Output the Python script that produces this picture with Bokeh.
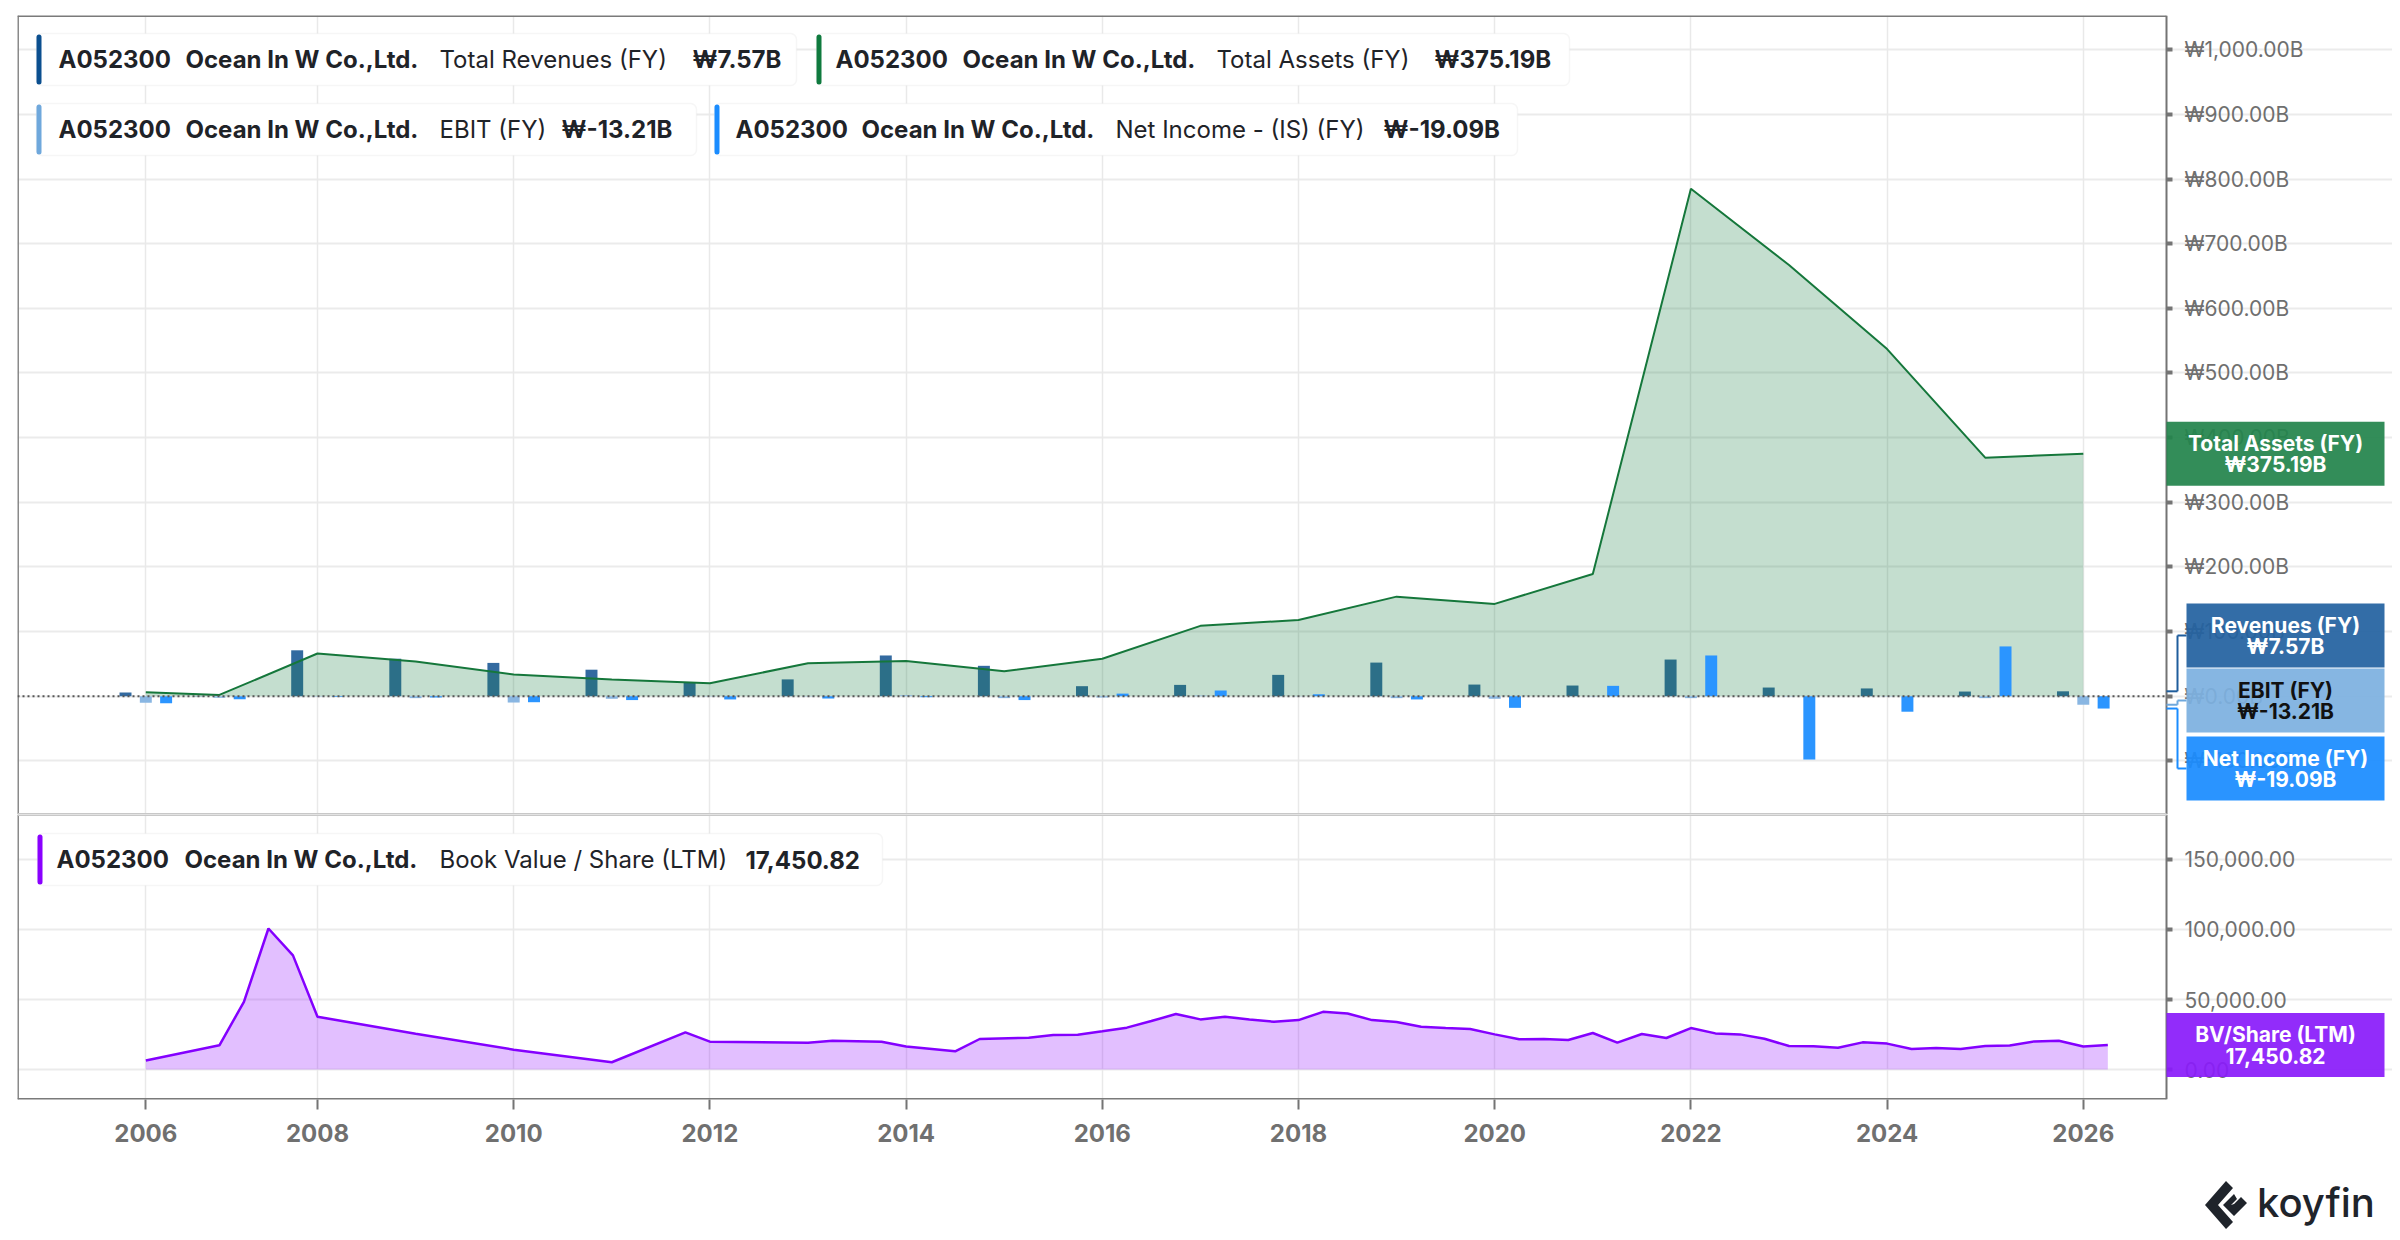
from bokeh.plotting import figure
from bokeh.layouts import column
from bokeh.models import (Range1d, FixedTicker, BoxAnnotation, Label, LinearAxis, Grid,
                          ColumnDataSource, Arrow, Div)
from bokeh.transform import dodge
from bokeh.embed import file_html
from bokeh.resources import INLINE

FONT = "Inter"

# ---------------- data ----------------
ticker_symbol = "A052300"
company_name = "Ocean In W Co.,Ltd."

fy_year = [2006.25, 2007, 2008, 2009, 2010, 2011, 2012, 2013, 2014, 2015, 2016,
           2017, 2018, 2019, 2020, 2021, 2022, 2023, 2024, 2025, 2026]
revenues_b = [5.7, 0.4, 71.0, 58.0, 51.5, 41.0, 21.0, 26.0, 63.0, 47.0, 15.5,
              17.5, 33.0, 52.0, 18.0, 16.5, 56.7, 13.4, 12.0, 7.2, 7.57]
total_assets_b = [6.2, 2.0, 66.0, 53.6, 33.5, 25.8, 20.0, 51.0, 54.6, 38.7, 58.0,
                  108.8, 118.0, 154.0, 142.8, 189.0, 785.0, 667.0, 537.0, 369.0, 375.19]
ebit_b = [-10.0, -2.5, -0.5, -3.0, -9.8, -4.0, -0.4, -0.4, 1.5, -3.0, -2.0,
          1.0, 0.3, -3.0, -4.0, -0.4, -3.0, -0.4, -0.4, -3.0, -13.21]
net_income_b = [-11.0, -4.6, -1.0, -2.0, -9.3, -6.0, -5.0, -3.6, -1.5, -6.0, 4.0,
                8.8, 3.0, -5.0, -18.0, 16.0, 63.0, -98.0, -24.0, 77.0, -19.09]

bv_year = [2006.25, 2007.0, 2007.25, 2007.5, 2007.75, 2008.0, 2009.0, 2010.0, 2011.0,
           2011.75, 2012.0, 2013.0, 2013.25, 2013.75, 2014.0, 2014.5, 2014.75,
           2015.25, 2015.5, 2015.75, 2016.0, 2016.25, 2016.5, 2016.75, 2017.0,
           2017.25, 2017.5, 2017.75, 2018.0, 2018.25, 2018.5, 2018.75, 2019.0,
           2019.25, 2019.5, 2019.75, 2020.0, 2020.25, 2020.5, 2020.75, 2021.0,
           2021.25, 2021.5, 2021.75, 2022.0, 2022.25, 2022.5, 2022.75, 2023.0,
           2023.25, 2023.5, 2023.75, 2024.0, 2024.25, 2024.5, 2024.75, 2025.0,
           2025.25, 2025.5, 2025.75, 2026.0, 2026.25]
bv_share = [6400, 17300, 48300, 100700, 81500, 37700, 25600, 14200, 5200,
            26500, 19900, 19200, 20600, 19900, 16400, 13000, 21800,
            22700, 24600, 24900, 27300, 29900, 34600, 39600, 35800,
            37700, 35800, 34100, 35300, 41200, 40000, 35300, 33900,
            30600, 29600, 28900, 25100, 21600, 21800, 21100, 26100,
            19200, 25400, 22500, 29600, 25800, 25100, 22000, 16800,
            16600, 15600, 19400, 18500, 14700, 15400, 14700, 16800,
            17100, 20100, 20600, 16400, 17450.82]

year_ticks = [2006.25, 2008, 2010, 2012, 2014, 2016, 2018, 2020, 2022, 2024, 2026]
year_labels = ["2006", "2008", "2010", "2012", "2014", "2016", "2018", "2020",
               "2022", "2024", "2026"]
asset_ticks = [-100, 0, 100, 200, 300, 400, 500, 600, 700, 800, 900, 1000]
asset_tick_labels = ["₩-100.00B", "₩0.00B", "₩100.00B", "₩200.00B", "₩300.00B",
                     "₩400.00B", "₩500.00B", "₩600.00B", "₩700.00B", "₩800.00B",
                     "₩900.00B", "₩1,000.00B"]
bv_ticks = [0, 50000, 100000, 150000]
bv_tick_labels = ["0.00", "50,000.00", "100,000.00", "150,000.00"]

legend_names = ["Total Revenues (FY)", "Total Assets (FY)", "EBIT (FY)",
                "Net Income - (IS) (FY)", "Book Value / Share (LTM)"]
legend_values = ["₩7.57B", "₩375.19B", "₩-13.21B", "₩-19.09B", "17,450.82"]
tag_names = ["Revenues (FY)", "Total Assets (FY)", "EBIT (FY)", "Net Income (FY)",
             "BV/Share (LTM)"]

# colours
C_REV, C_REV_BAR = "#1f5d9c", "#336aa0"
C_ASSET, C_ASSET_TAG = "#15773b", "#24844c"
C_EBIT, C_EBIT_BAR = "#6fa8dc", "#89b6e2"
C_NI, C_NI_BAR = "#1a8cff", "#2b95ff"
C_BV = "#8a00ff"
TXT = "#1f2328"
AX = "#747474"

# ---------------- geometry (screenshot pixels, page origin at 0,0) ----------------
FL, FR, FRAME_R = 17.0, 2166.0, 2392.0        # frame left, axis line, frame right
XS, XAX = 2004.942, 2026.848                   # data x at FL and at the axis line
PX_PER_YR = (FR - FL) / (XAX - XS)
XE = XS + (FRAME_R - FL) / PX_PER_YR
TOP_Y0, TOP_Y1 = -183.0, 1053.0
T0, T1 = 15.0, 814.0
BOT_Y0, BOT_Y1 = -21400.0, 182100.0
B0, B1 = 814.0, 1099.0


def xd(px):
    return XS + (px - FL) / PX_PER_YR


def yt(py):
    return TOP_Y1 - (py - T0) * (TOP_Y1 - TOP_Y0) / (T1 - T0)


def yb(py):
    return BOT_Y1 - (py - B0) * (BOT_Y1 - BOT_Y0) / (B1 - B0)


def pyt(v):
    return T0 + (TOP_Y1 - v) * (T1 - T0) / (TOP_Y1 - TOP_Y0)


def pyb(v):
    return B0 + (BOT_Y1 - v) * (B1 - B0) / (BOT_Y1 - BOT_Y0)


x_rng = Range1d(XS, XE)


def seg(fig, xa, ya, xb, yb_, color, width, dash="solid"):
    fig.add_layout(Arrow(end=None, start=None, x_start=xa, y_start=ya, x_end=xb, y_end=yb_,
                         line_color=color, line_width=width, line_dash=dash))


def make_fig(height, y0, y1, ticks, labels, top_b, bot_b, xaxis, top_col, bot_col):
    p = figure(width=int(FRAME_R), height=height, x_range=x_rng, y_range=Range1d(y0, y1),
               x_axis_location="below" if xaxis else None, y_axis_location=None,
               toolbar_location=None, output_backend="svg", title=None,
               min_border_left=int(FL), min_border_right=0, min_border_top=top_b,
               min_border_bottom=bot_b)
    p.background_fill_color = "white"
    p.border_fill_color = "white"
    p.outline_line_color = None
    p.xgrid.grid_line_color = None
    p.ygrid.grid_line_color = None
    p.add_layout(Grid(dimension=1, ticker=FixedTicker(ticks=ticks), bounds=(XS, XAX),
                      grid_line_color="#ebebeb", grid_line_width=2))
    p.add_layout(Grid(dimension=0, ticker=FixedTicker(ticks=year_ticks),
                      grid_line_color="#e9e9e9", grid_line_width=1.5))
    yax = LinearAxis(fixed_location=XAX, ticker=FixedTicker(ticks=ticks))
    yax.major_label_overrides = {float(t): l for t, l in zip(ticks, labels)}
    yax.axis_line_color = AX
    yax.axis_line_width = 2
    yax.major_tick_out = 6
    yax.major_tick_in = 0
    yax.major_tick_line_color = AX
    yax.major_tick_line_width = 4
    yax.minor_tick_line_color = None
    yax.major_label_standoff = 12
    yax.major_label_text_font = FONT
    yax.major_label_text_font_size = "21px"
    yax.major_label_text_color = "#6f6f6f"
    p.add_layout(yax, "right")
    if xaxis:
        xax = p.xaxis[0]
        xax.ticker = FixedTicker(ticks=year_ticks)
        xax.major_label_overrides = {float(t): l for t, l in zip(year_ticks, year_labels)}
        xax.axis_line_color = None
        xax.major_tick_out = 10
        xax.major_tick_in = 0
        xax.major_tick_line_color = AX
        xax.major_tick_line_width = 2
        xax.minor_tick_line_color = None
        xax.major_label_standoff = 14
        xax.major_label_text_font = FONT
        xax.major_label_text_font_size = "24px"
        xax.major_label_text_font_style = "bold"
        xax.major_label_text_color = "#707070"
    # frame borders (left, top, bottom) up to the axis line
    seg(p, XS, y0, XS, y1, "#8a8a8a", 3)
    seg(p, XS, y1, XAX, y1, top_col, 3)
    seg(p, XS, y0, XAX, y0, bot_col, 3)
    return p


top = make_fig(int(T1), TOP_Y0, TOP_Y1, asset_ticks, asset_tick_labels, int(T0), 0, False,
               "#7a7a7a", "#c8c8c8")
bot = make_fig(343, BOT_Y0, BOT_Y1, bv_ticks, bv_tick_labels, 0, 58, True,
               "#c8c8c8", "#7a7a7a")

# ---------------- top panel glyphs ----------------
src = ColumnDataSource(dict(x=fy_year, rev=revenues_b, assets=total_assets_b,
                            ebit=ebit_b, ni=net_income_b))
BW, OFF = 0.122, 0.207
top.vbar(x=dodge("x", -OFF, range=x_rng), top="rev", bottom=0, width=BW,
         source=src, fill_color=C_REV_BAR, line_color=None)
top.varea(x="x", y1=0, y2="assets", source=src, fill_color="#1a7f45", fill_alpha=0.26)
top.line(x="x", y="assets", source=src, line_color=C_ASSET, line_width=2)
top.vbar(x="x", top="ebit", bottom=0, width=BW, source=src,
         fill_color=C_EBIT_BAR, line_color=None)
top.vbar(x=dodge("x", OFF, range=x_rng), top="ni", bottom=0, width=BW, source=src,
         fill_color=C_NI_BAR, line_color=None)
seg(top, XS, 0, XAX, 0, "#555555", 2, "2 3")

# ---------------- bottom panel glyphs ----------------
bsrc = ColumnDataSource(dict(x=bv_year, bv=bv_share))
bot.varea(x="x", y1=0, y2="bv", source=bsrc, fill_color=C_BV, fill_alpha=0.25)
bot.line(x="x", y="bv", source=bsrc, line_color="#8400ff", line_width=2.5)


# ---------------- legends ----------------
def legend(fig, ycv, x0, x1, y0, y1, color, parts):
    fig.add_layout(BoxAnnotation(left=xd(x0), right=xd(x1), top=ycv(y0), bottom=ycv(y1),
                                 fill_color="white", fill_alpha=1.0, line_color="#e2e2e2",
                                 line_width=1.5, border_radius=6))
    fig.add_layout(BoxAnnotation(left=xd(x0), right=xd(x0 + 5), top=ycv(y0 + 1),
                                 bottom=ycv(y1 - 1), fill_color=color, fill_alpha=1.0,
                                 line_color=None, border_radius=3))
    yc = ycv((y0 + y1) / 2)
    for px, text, bold in parts:
        fig.add_layout(Label(x=xd(px), y=yc, text=text, text_font=FONT,
                             text_font_size="24px",
                             text_font_style="bold" if bold else "normal",
                             text_color=TXT, text_align="left", text_baseline="middle"))


legend(top, yt, 36, 796, 33, 85, "#0b4f8f",
       [(58, ticker_symbol, True), (185, company_name, True),
        (439, legend_names[0], False), (692, legend_values[0], True)])
legend(top, yt, 816, 1569, 33, 85, "#0f7a3e",
       [(835, ticker_symbol, True), (962, company_name, True),
        (1216, legend_names[1], False), (1434, legend_values[1], True)])
legend(top, yt, 36, 696, 103, 155, C_EBIT,
       [(58, ticker_symbol, True), (185, company_name, True),
        (439, legend_names[2], False), (561, legend_values[2], True)])
legend(top, yt, 714, 1517, 103, 155, C_NI,
       [(735, ticker_symbol, True), (861, company_name, True),
        (1115, legend_names[3], False), (1383, legend_values[3], True)])
legend(bot, yb, 37, 882, 833, 885, C_BV,
       [(56, ticker_symbol, True), (184, company_name, True),
        (439, legend_names[4], False), (745, legend_values[4], True)])


# ---------------- right-side value tags ----------------
def tag(fig, ycv, x0, x1, yc, fill, tcol, line1, line2):
    y0, y1 = yc - 32, yc + 32
    fig.add_layout(BoxAnnotation(left=xd(x0), right=xd(x1), top=ycv(y0), bottom=ycv(y1),
                                 fill_color=fill, fill_alpha=0.93, line_color=None))
    xc = xd((x0 + x1) / 2)
    for dy, t in ((-10.5, line1), (11.0, line2)):
        fig.add_layout(Label(x=xc, y=ycv(yc + dy), text=t, text_font=FONT,
                             text_font_size="21px", text_font_style="bold",
                             text_color=tcol, text_align="center", text_baseline="middle"))


def connector(fig, ycv, y_from, y_to, color):
    pts = [(FR, y_from), (FR + 11, y_from), (FR + 11, y_to), (FR + 20, y_to)]
    for (xa, ya), (xb, yb_) in zip(pts[:-1], pts[1:]):
        seg(fig, xd(xa), ycv(ya), xd(xb), ycv(yb_), color, 2)


tag(top, yt, FR, 2384, pyt(total_assets_b[-1]), C_ASSET_TAG, "white",
    tag_names[1], legend_values[1])
stack_c = [635, 700, 768]
connector(top, yt, pyt(revenues_b[-1]), stack_c[0], C_REV)
connector(top, yt, pyt(ebit_b[-1]), stack_c[1], C_EBIT)
connector(top, yt, pyt(net_income_b[-1]), stack_c[2], C_NI)
tag(top, yt, 2186, 2384, stack_c[0], "#2462a0", "white", tag_names[0], legend_values[0])
tag(top, yt, 2186, 2384, stack_c[1], "#7db0e0", "#111111", tag_names[2], legend_values[2])
tag(top, yt, 2186, 2384, stack_c[2], "#1a8cff", "white", tag_names[3], legend_values[3])
tag(bot, yb, FR, 2384, pyb(bv_share[-1]), "#8a1cfa", "white", tag_names[4], legend_values[4])

# ---------------- koyfin logo ----------------
logo_html = (
    '<div style="position:relative;width:2392px;height:75px;">'
    '<svg style="position:absolute;left:2200px;top:19px" width="42" height="48" '
    'viewBox="0 0 42 48">'
    '<path d="M21 0 L0 24 L21 48 L28 41 L13 24 L28 7 Z" fill="#1f242b"/>'
    '<path d="M29 13 L18 24 L29 35 L42 22 L36 16 L29 23 L26 24 L32 18 Z" fill="#1f242b"/>'
    '</svg>'
    '<span style="position:absolute;left:2252px;top:16px;font-family:Inter,sans-serif;'
    'font-size:40px;font-weight:500;line-height:50px;color:#1f242b;">koyfin</span>'
    '</div>'
)
logo = Div(text=logo_html, width=int(FRAME_R), height=75)

layout = column(top, bot, logo, spacing=0)
open("out.html", "w").write(file_html(layout, INLINE))
